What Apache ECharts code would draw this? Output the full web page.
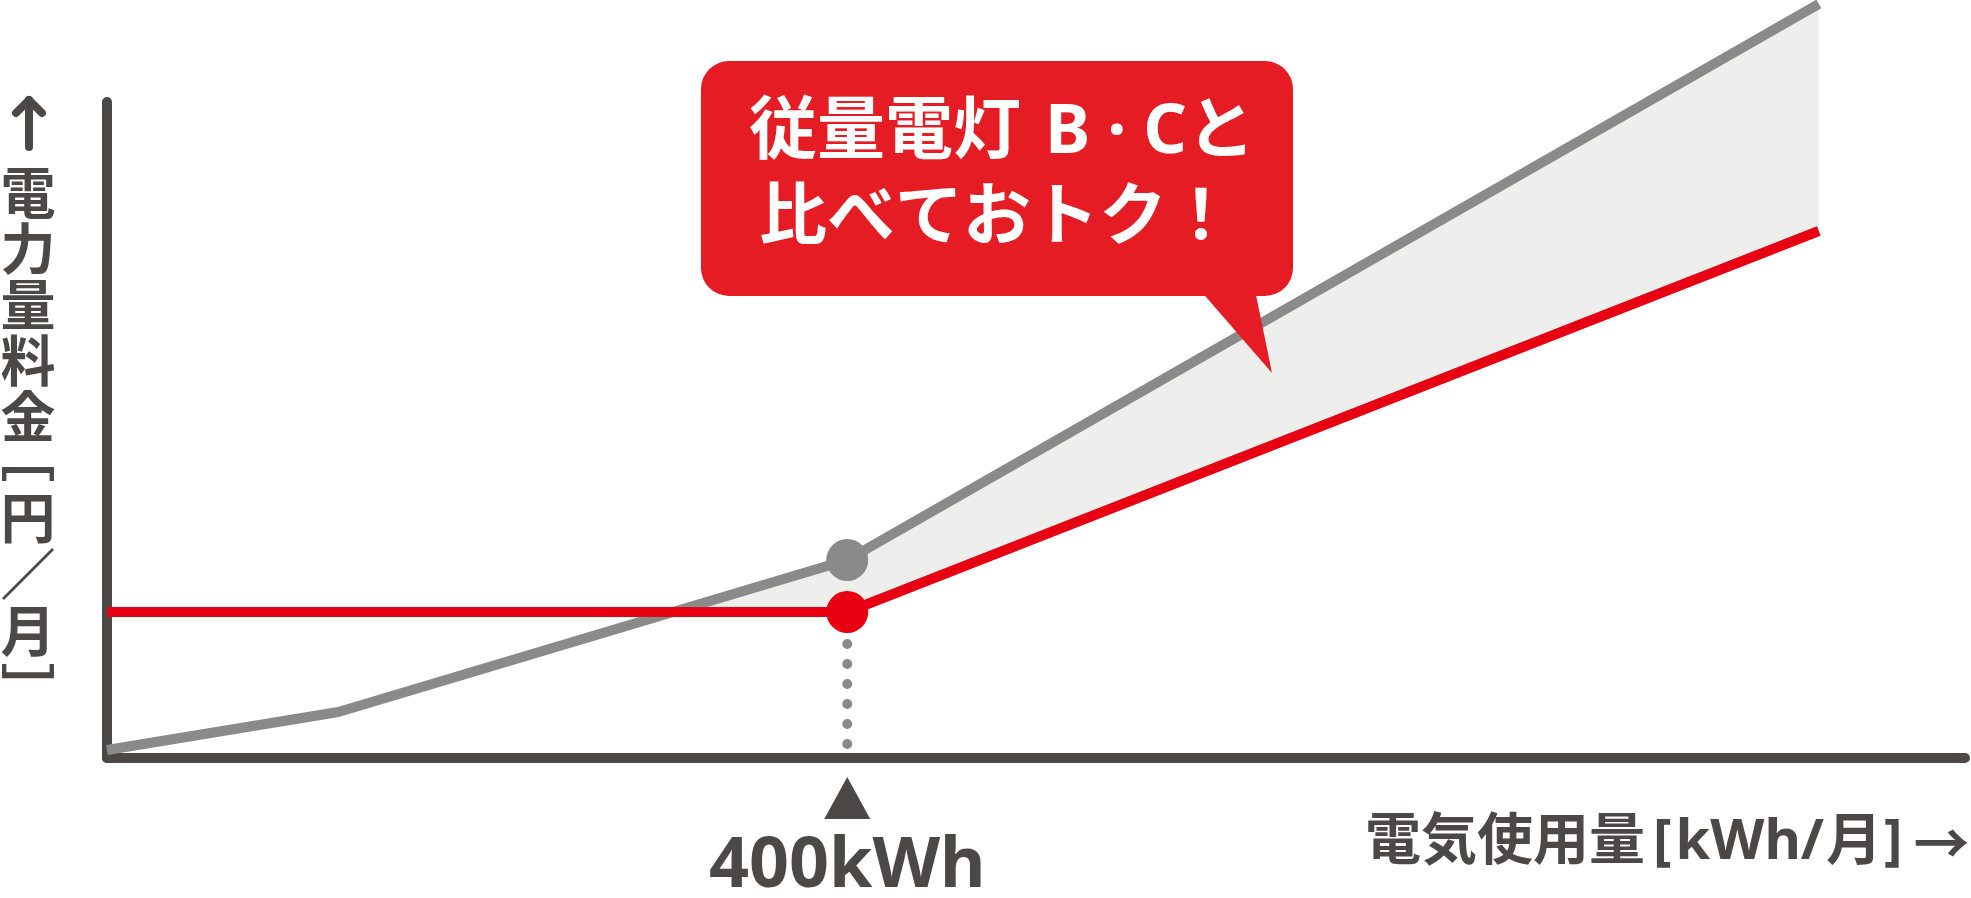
<!DOCTYPE html>
<html>
<head>
<meta charset="utf-8">
<title>電力量料金の比較</title>
<script src="https://cdn.jsdelivr.net/npm/echarts@6/dist/echarts.min.js"></script>
<style>
  html, body { margin: 0; padding: 0; background: #fff; }
  #main { width: 1971px; height: 898px; }
</style>
</head>
<body>
<div id="main"></div>
<script>
// 図から読み取った概算値（使用量 kWh / 料金 円）
var grayUsage = [0, 125, 400, 925];
var grayCharge = [400, 2300, 9900, 37700];
var redUsage = [0, 400, 925];
var redCharge = [7300, 7300, 26350];
var markUsage = [400];
var markText = ['400kWh'];
var balloonLines = ['{a|従量電灯}{b|B}{c|·}{d|C}{a|と}', '比べておトク！'];
var yTitle = ['電', '力', '量', '料', '金', '﹇', '円', '／', '月', '﹈'];
var yTitlePos = [192, 248, 304, 360, 416, 454, 517, 573, 630, 690];

var DARK = '#4b4846';
var GRAY = '#8a8a8a';
var RED = '#e60012';
// 英数字は Noto Sans、和文は Noto Sans CJK JP にまかせる
var FONT = '"Noto Sans", "Noto Sans CJK JP", sans-serif';
var CJK = '"Noto Sans CJK JP", sans-serif';

function pairs(xs, ys) {
  return xs.map(function (x, i) { return [x, ys[i]]; });
}
function interp(xs, ys, x) {
  for (var i = 0; i < xs.length - 1; i++) {
    if (x >= xs[i] && x <= xs[i + 1]) {
      return ys[i] + (ys[i + 1] - ys[i]) * (x - xs[i]) / (xs[i + 1] - xs[i]);
    }
  }
  return ys[ys.length - 1];
}

// 灰色の線が赤い線を上回る区間（塗り）を求める
var xsAll = grayUsage.concat(redUsage).filter(function (v, i, a) { return a.indexOf(v) === i; })
  .sort(function (a, b) { return a - b; });
var crossX = null;
for (var i = 0; i < xsAll.length - 1; i++) {
  var d0 = interp(grayUsage, grayCharge, xsAll[i]) - interp(redUsage, redCharge, xsAll[i]);
  var d1 = interp(grayUsage, grayCharge, xsAll[i + 1]) - interp(redUsage, redCharge, xsAll[i + 1]);
  if (d0 <= 0 && d1 > 0) {
    crossX = xsAll[i] + (xsAll[i + 1] - xsAll[i]) * (-d0) / (d1 - d0);
  }
}
var fillXs = [crossX].concat(xsAll.filter(function (x) { return x > crossX; }));
var fillPoly = fillXs.map(function (x) { return [x, interp(grayUsage, grayCharge, x)]; })
  .concat(fillXs.slice().reverse().map(function (x) { return [x, interp(redUsage, redCharge, x)]; }));

var chart = echarts.init(document.getElementById('main'));

// 縦軸タイトル（縦書き）と上向き矢印
var yTitleEls = [{
  type: 'polyline',
  shape: { points: [[29, 147], [29, 100]] },
  style: { stroke: DARK, lineWidth: 8, lineCap: 'round', fill: null }
}, {
  type: 'polyline',
  shape: { points: [[16, 113], [29, 100], [42, 113]] },
  style: { stroke: DARK, lineWidth: 8, lineCap: 'round', lineJoin: 'round', fill: null }
}];
yTitle.forEach(function (ch, i) {
  yTitleEls.push({
    type: 'text',
    x: 28, y: yTitlePos[i],
    style: {
      text: ch, fill: DARK,
      font: 'bold 55px ' + CJK,
      textAlign: 'center', textVerticalAlign: 'middle', verticalAlign: 'middle'
    }
  });
});

function token(size, color, extra) {
  var s = { fontSize: size, fontWeight: 'bold', fontFamily: FONT, color: color };
  for (var k in extra) s[k] = extra[k];
  return s;
}

var option = {
  backgroundColor: '#fff',
  animation: false,
  grid: { left: 107, right: 6, top: 102, bottom: 140, outerBoundsMode: 'none', containLabel: false },
  xAxis: {
    type: 'value', min: 0, max: 1004,
    axisLine: { show: true, lineStyle: { color: DARK, width: 10, cap: 'round' } },
    axisTick: { show: false },
    splitLine: { show: false },
    axisLabel: {
      show: true,
      customValues: markUsage,
      margin: 74,
      verticalAlign: 'top',
      color: DARK,
      fontSize: 70,
      fontWeight: 'bold',
      fontFamily: FONT,
      lineHeight: 70,
      formatter: function (v) { return markText[markUsage.indexOf(v)] || ''; }
    }
  },
  yAxis: {
    type: 'value', min: 0, max: 32800,
    axisLine: { show: true, lineStyle: { color: DARK, width: 10, cap: 'round' } },
    axisTick: { show: false },
    splitLine: { show: false },
    axisLabel: { show: false }
  },
  series: [
    {
      name: '差額',
      type: 'custom',
      z: 1,
      data: [[crossX, 0]],
      renderItem: function (params, api) {
        return {
          type: 'polygon',
          shape: { points: fillPoly.map(function (p) { return api.coord(p); }) },
          style: { fill: '#eeeeec' }
        };
      }
    },
    {
      name: '目盛り点線',
      type: 'line',
      z: 2,
      clip: false,
      symbol: 'none',
      data: [[markUsage[0], interp(redUsage, redCharge, markUsage[0])], [markUsage[0], 0]],
      lineStyle: { color: GRAY, width: 10, type: [0, 20], cap: 'round', dashOffset: -12 }
    },
    {
      name: '従量電灯B・C',
      type: 'line',
      z: 3,
      clip: false,
      symbol: 'none',
      data: pairs(grayUsage, grayCharge),
      lineStyle: { color: GRAY, width: 10, cap: 'butt' }
    },
    {
      name: 'おトクプラン',
      type: 'line',
      z: 4,
      clip: false,
      symbol: 'none',
      data: pairs(redUsage, redCharge),
      lineStyle: { color: RED, width: 10, cap: 'butt' }
    },
    {
      name: '点',
      type: 'scatter',
      z: 6,
      clip: false,
      symbolSize: 42,
      data: [
        { value: [markUsage[0], interp(grayUsage, grayCharge, markUsage[0])], itemStyle: { color: GRAY, opacity: 1 } },
        { value: [markUsage[0], interp(redUsage, redCharge, markUsage[0])], itemStyle: { color: RED, opacity: 1 } }
      ]
    },
    {
      name: '三角',
      type: 'scatter',
      z: 6,
      clip: false,
      symbol: 'triangle',
      symbolSize: [46, 42],
      itemStyle: { color: DARK, opacity: 1 },
      data: [[markUsage[0], -2000]]
    }
  ],
  graphic: [
    // 吹き出し
    {
      type: 'rect', z: 10,
      shape: { x: 701, y: 61, width: 592, height: 235, r: 28 },
      style: { fill: '#e61c24' }
    },
    {
      type: 'polygon', z: 10,
      shape: { points: [[1200, 290], [1255, 290], [1272, 373]] },
      style: { fill: '#e61c24' }
    },
    {
      type: 'text', z: 11, x: 749, y: 134,
      style: {
        text: balloonLines[0], fill: '#fff', font: 'bold 68px ' + FONT,
        textAlign: 'left', textVerticalAlign: 'middle', verticalAlign: 'middle',
        rich: {
          a: token(68, '#fff', {}),
          b: token(68, '#fff', { padding: [0, 0, 0, 24] }),
          c: token(68, '#fff', { padding: [0, 17, 0, 17] }),
          d: token(68, '#fff', {})
        }
      }
    },
    {
      type: 'text', z: 11, x: 997, y: 220,
      style: {
        text: balloonLines[1], fill: '#fff', font: 'bold 68px ' + FONT,
        textAlign: 'center', textVerticalAlign: 'middle', verticalAlign: 'middle'
      }
    },
    // 横軸タイトル
    {
      type: 'text', x: 1365, y: 843,
      style: {
        text: '{a|電気使用量}{b|[}{c|kWh/}{f|月}{d|]}{e|→}',
        fill: DARK,
        font: 'bold 56px ' + FONT,
        textAlign: 'left', textVerticalAlign: 'middle', verticalAlign: 'middle',
        rich: {
          a: token(56, DARK, {}),
          b: token(56, DARK, { padding: [0, 4, 0, 8] }),
          c: token(56, DARK, {}),
          f: token(56, DARK, { padding: [0, 0, 0, 2] }),
          d: token(56, DARK, { padding: [0, 11, 0, 2] }),
          e: token(56, DARK, { fontFamily: CJK })
        }
      }
    }
  ].concat(yTitleEls)
};

chart.setOption(option);
</script>
</body>
</html>
